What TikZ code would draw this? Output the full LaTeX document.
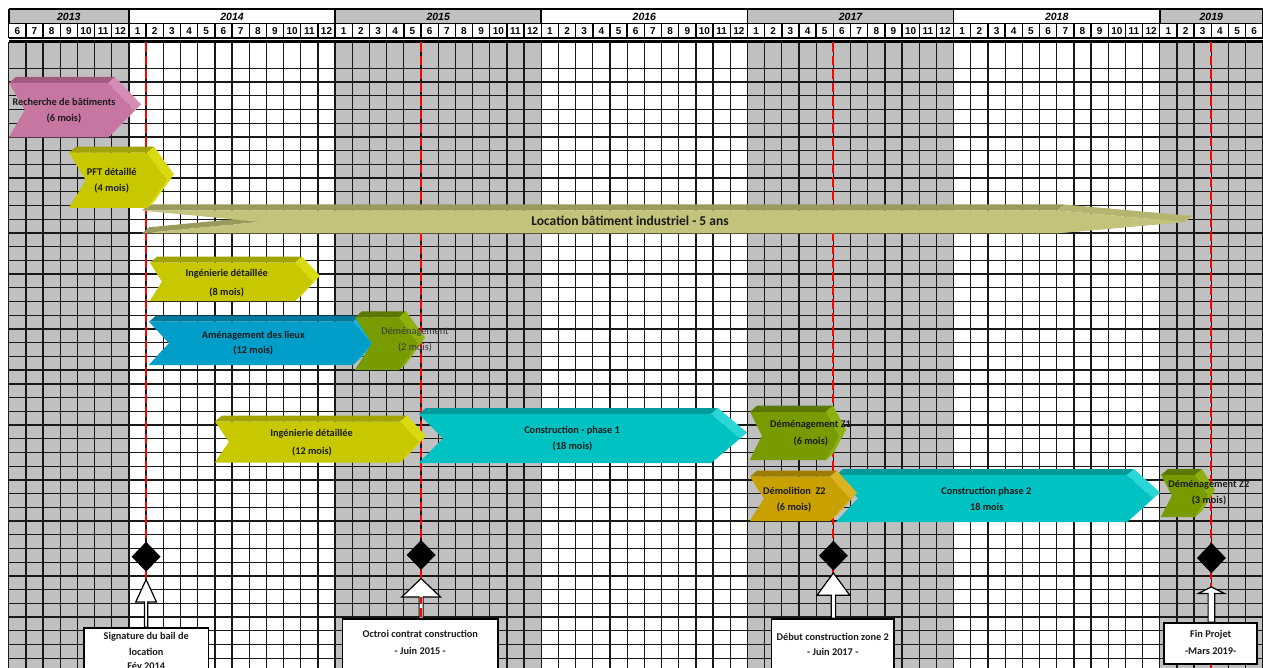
\documentclass[tikz,border=0pt]{standalone}
\usepackage{fontspec}
\setmainfont{Carlito}
\newfontfamily\arialf{Liberation Sans}
\usetikzlibrary{shapes.geometric,calc}

\definecolor{pinkF}{HTML}{C676A0}\definecolor{pinkT}{HTML}{A25A82}\definecolor{pinkS}{HTML}{D68DB5}
\definecolor{oliveF}{HTML}{C8C800}\definecolor{oliveT}{HTML}{A3A300}\definecolor{oliveS}{HTML}{DADA10}
\definecolor{khakiF}{HTML}{C3C37B}\definecolor{khakiT}{HTML}{9A9A5E}\definecolor{khakiS}{HTML}{B5B570}
\definecolor{blueF}{HTML}{009EC8}\definecolor{blueT}{HTML}{00789C}\definecolor{blueS}{HTML}{1AB2DA}
\definecolor{greenF}{HTML}{789B00}\definecolor{greenT}{HTML}{5C7800}\definecolor{greenS}{HTML}{8DB00E}
\definecolor{cyanF}{HTML}{00C2C2}\definecolor{cyanT}{HTML}{009A9A}\definecolor{cyanS}{HTML}{2AD6D6}
\definecolor{mustF}{HTML}{C8A000}\definecolor{mustT}{HTML}{9E7E00}\definecolor{mustS}{HTML}{DAB422}
\definecolor{gridgray}{HTML}{C0C0C0}
\definecolor{txt}{HTML}{1A1A1A}

% 3D chevron bar: xL xR yT yB notch tip palette
\newcommand\gbar[7]{%
 \pgfmathsetmacro\gM{(#3+#4)/2}%
 \fill[fill=#7T] ({#1+#5},\gM) -- ({#1+#5+7},{\gM-6}) -- ({#1+7},{#4-6}) -- (#1,#4) -- cycle;
 \fill[fill=#7S] ({#2+#6},\gM) -- ({#2+#6+7},{\gM-6}) -- ({#2+7},{#4-6}) -- (#2,#4) -- cycle;
 \fill[fill=#7T] (#1,#3) -- ({#1+7},{#3-6}) -- ({#2+7},{#3-6}) -- (#2,#3) -- cycle;
 \fill[fill=#7S] (#2,#3) -- ({#2+7},{#3-6}) -- ({#2+#6+7},{\gM-6}) -- ({#2+#6},\gM) -- cycle;
 \fill[fill=#7F] (#1,#3) -- (#2,#3) -- ({#2+#6},\gM) -- (#2,#4) -- (#1,#4) -- ({#1+#5},\gM) -- cycle;
}
% block arrow from box to milestone: box, diamond, shaft half, head half, head length, gap
\newcommand\blockarrow[6]{%
 \draw[barrow] let \p1=(#2.south), \p2=(#1.north) in
   (\x1,\y1-#6pt) -- (\x1+#4pt,\y1-#6pt-#5pt) -- (\x1+#3pt,\y1-#6pt-#5pt) -- (\x1+#3pt,\y2)
   -- (\x1-#3pt,\y2) -- (\x1-#3pt,\y1-#6pt-#5pt) -- (\x1-#4pt,\y1-#6pt-#5pt) -- cycle;
}

\begin{document}
\begin{tikzpicture}[x=1pt,y=-1pt,
  month/.style={font=\arialf\bfseries\fontsize{10}{11}\selectfont, inner sep=0pt, text height=7.2pt, text depth=0pt},
  yearlbl/.style={font=\arialf\bfseries\itshape\fontsize{10.5}{12}\selectfont, inner sep=0pt, text height=7.5pt, text depth=0pt},
  lbl/.style={font=\fontsize{10.3}{12}\selectfont\bfseries, text=txt, inner sep=0pt, text height=6.6pt, text depth=0pt},
  lbllight/.style={font=\fontsize{10.3}{12}\selectfont, text=black!78, inner sep=0pt, text height=6.6pt, text depth=0pt},
  biglbl/.style={font=\fontsize{13.5}{15}\selectfont\bfseries, text=txt, inner sep=0pt, text height=8.6pt, text depth=0pt},
  gridline/.style={draw=black!90, line width=1.3pt},
  redline/.style={draw=red, line width=2pt, dash pattern=on 9.5pt off 4pt},
  mile/.style={diamond, fill=black, inner sep=0pt, minimum width=29pt, minimum height=30pt},
  cbox/.style={draw=black, fill=white, line width=1.3pt, inner sep=0pt},
  barrow/.style={draw=black, fill=white, line width=1.2pt, line join=miter},
]
\useasboundingbox (0,0) rectangle (1263,668);
\clip (0,0) rectangle (1263,668);
\fill[white] (0,0) rectangle (1263,668);
\def\xo{8.7}\def\mw{17.18}

% ---- grid background ----
\foreach \a/\b in {0/7,19/31,43/55,67/73}{
  \fill[gridgray] ({\xo+\a*\mw},42) rectangle ({\xo+\b*\mw},670);
  \fill[gridgray] ({\xo+\a*\mw},9.2) rectangle ({\xo+\b*\mw},23.4);
}
\foreach \m in {0,...,73}
  \draw[gridline] ({\xo+\m*\mw},42) -- ({\xo+\m*\mw},670);
\foreach \j in {0,...,44}{
  \pgfmathsetmacro\yy{68.3+13.72*\j}
  \draw[gridline] (\xo,\yy) -- (1263,\yy);
}
\draw[black, line width=2.6pt] (\xo,41.8) -- (1263,41.8);

% ---- header ----
\draw[black, line width=1.9pt] (\xo,9.2) -- (1263,9.2);
\draw[black, line width=1.4pt] (\xo,23.4) -- (1263,23.4);
\draw[black, line width=1.9pt] (\xo,37.6) -- (1263,37.6);
\foreach \m in {0,...,73}
  \draw[black, line width=1.4pt] ({\xo+\m*\mw},23.4) -- ({\xo+\m*\mw},37.6);
\foreach \a in {0,7,19,31,43,55,67,73}
  \draw[black, line width=1.6pt] ({\xo+\a*\mw},9.2) -- ({\xo+\a*\mw},23.4);
\foreach \m in {0,...,72}{
  \pgfmathtruncatemacro\mn{mod(\m+5,12)+1}
  \node[month] (mo\m) at ({\xo+(\m+0.5)*\mw},30.5) {\mn};
}
\foreach \yr/\a/\b in {2013/0/7,2014/7/19,2015/19/31,2016/31/43,2017/43/55,2018/55/67,2019/67/73}
  \node[yearlbl] (yr\yr) at ({\xo+(\a+\b)/2*\mw},16.3) {\yr};

% ---- red milestone lines ----
\foreach \x in {146.1,421.1,833.4,1211.4}
  \draw[redline] (\x,42.5) -- (\x,670);

% ---- bars ----
\gbar{9}{108}{83}{137.5}{16}{26}{pink}
\gbar{142}{1057}{210.5}{233.3}{118}{128}{khaki}
\gbar{69}{147}{152.7}{208}{17}{20}{olive}
\gbar{150}{295}{262.7}{301}{12}{18}{olive}
\gbar{149}{353}{321.7}{365}{20}{19}{blue}
\gbar{355}{399}{317.3}{370}{17}{19}{green}
\gbar{215}{400}{421.5}{462.5}{14}{19}{olive}
\gbar{419}{711}{414}{463}{24}{29}{cyan}
\gbar{750}{826}{411.7}{460}{12}{13}{green}
\gbar{836}{1127}{475}{522}{22}{26}{cyan}
\gbar{750}{830}{476.7}{521}{14}{20}{must}
\gbar{1161}{1195}{475}{517}{11}{13}{green}

% ---- bar labels ----
\node[lbl] (t1a) at (64,102.7) {Recherche de bâtiments};
\node[lbl] (t1b) at (64,118.3) {(6 mois)};
\node[lbl] (t2a) at (111.7,172.7) {PFT détaillé};
\node[lbl] (t2b) at (111.7,188.3) {(4 mois)};
\node[biglbl] (t3) at (630,221) {Location bâtiment industriel  - 5 ans};
\node[lbl] (t4a) at (226.7,273.3) {Ingénierie détaillée};
\node[lbl] (t4b) at (226.7,291.7) {(8 mois)};
\node[lbl] (t5a) at (253.3,335) {Aménagement des lieux};
\node[lbl] (t5b) at (253.3,350) {(12 mois)};
\node[lbllight] (t6a) at (415,330.7) {Déménagement};
\node[lbllight] (t6b) at (415,347) {(2 mois)};
\node[lbl] (t7a) at (311.6,433) {Ingénierie détaillée};
\node[lbl] (t7b) at (312,451) {(12 mois)};
\node[lbl] (t8a) at (572,430) {Construction - phase 1};
\node[lbl] (t8b) at (572.5,446) {(18 mois)};
\node[lbl] (t9a) at (810.5,424.3) {Déménagement Z1};
\node[lbl] (t9b) at (810.8,441) {(6 mois)};
\node[lbl] (t10a) at (794.4,491) {Démolition\ \ Z2};
\node[lbl] (t10b) at (794,507.3) {(6 mois)};
\node[lbl] (t11a) at (986.3,491) {Construction phase 2};
\node[lbl] (t11b) at (986.7,507.3) {18 mois};
\node[lbl] (t12a) at (1208.8,484.3) {Déménagement Z2};
\node[lbl] (t12b) at (1209,500) {(3 mois)};

% ---- milestones ----
\node[mile] (d1) at (146.1,556.7) {};
\node[mile] (d2) at (421.1,555) {};
\node[mile] (d3) at (833.4,555.7) {};
\node[mile, minimum height=30.7pt] (d4) at (1211.4,558) {};

\node[cbox, minimum width=124.3pt, minimum height=60pt, anchor=north] (b1) at (146.2,627.3) {};
\node[cbox, minimum width=155.3pt, minimum height=60pt, anchor=north] (b2) at (420.3,618.3) {};
\node[cbox, minimum width=122.3pt, minimum height=60pt, anchor=north] (b3) at (832.8,618.3) {};
\node[cbox, minimum width=93pt, minimum height=41pt, anchor=north] (b4) at (1210.5,622.3) {};

\blockarrow{b1}{d1}{1.6}{10.3}{22.4}{7.6}
\blockarrow{b2}{d2}{2}{19.3}{18.4}{8.3}
\blockarrow{b3}{d3}{2.2}{16.3}{22.3}{2}
\blockarrow{b4}{d4}{3.3}{13.3}{6.6}{13.4}
% red milestone line seen through the narrow shaft of the second arrow
\draw[redline, line width=1.6pt, dash phase=3pt] let \p1=(d2.south), \p2=(b2.north) in (\x1,\y1-27pt) -- (\x1,\y2);

\node[lbl] (b1a) at (146.2,636) {Signature du bail de};
\node[lbl] (b1b) at (146.2,651.7) {location};
\node[lbl] (b1c) at (146.2,666) {Fév 2014};
\node[lbl] (b2a) at (420.3,634) {Octroi contrat construction};
\node[lbl] (b2b) at (420.3,650.7) {- Juin 2015 -};
\node[lbl] (b3a) at (832.8,636.7) {Début construction zone 2};
\node[lbl] (b3b) at (832.8,651.7) {- Juin 2017 -};
\node[lbl] (b4a) at (1210.7,634) {Fin Projet};
\node[lbl] (b4b) at (1210.7,650.7) {-Mars 2019-};
\end{tikzpicture}
\end{document}
